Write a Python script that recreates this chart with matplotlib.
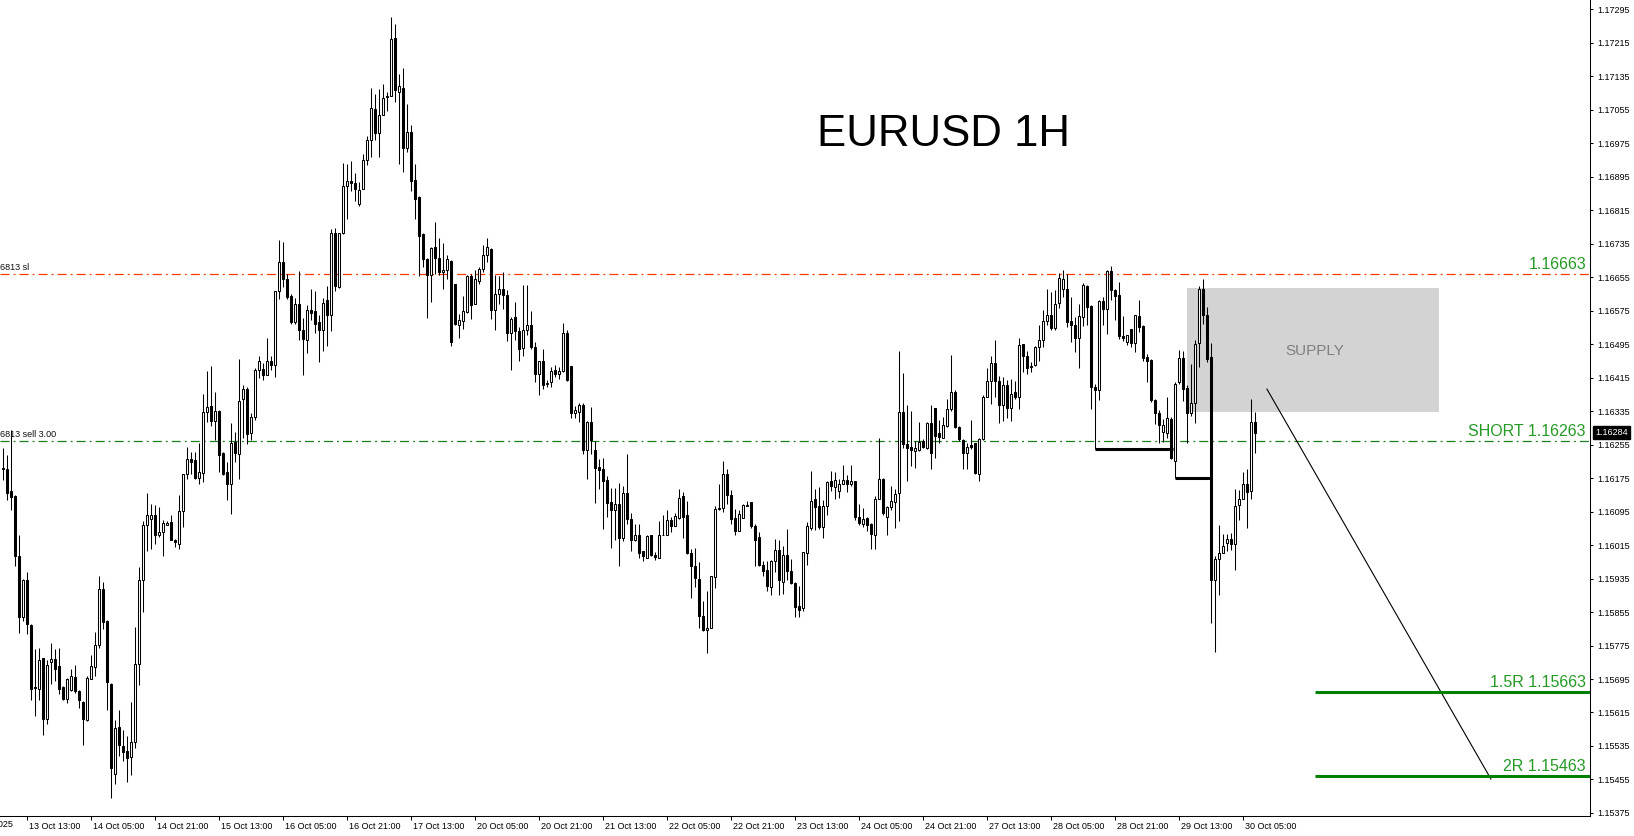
import matplotlib
matplotlib.use('Agg')
import matplotlib.pyplot as plt
import matplotlib.transforms as mtransforms
from matplotlib.patches import Rectangle
import numpy as np

plt.rcParams['font.family'] = ['Liberation Sans', 'DejaVu Sans']
plt.rcParams['lines.scale_dashes'] = False

# EURUSD H1 candles, 13 Oct 07:00 .. 30 Oct
opens = [
    1.16200, 1.16196, 1.16144, 1.16132, 1.15990, 1.15842, 1.15932, 1.15824, 1.15676, 1.15672,
    1.15744, 1.15600, 1.15736, 1.15742, 1.15726, 1.15676, 1.15648, 1.15668, 1.15700, 1.15666,
    1.15640, 1.15598, 1.15696, 1.15724, 1.15776, 1.15910, 1.15834, 1.15684, 1.15468, 1.15580,
    1.15536, 1.15522, 1.15508, 1.15544, 1.15730, 1.15932, 1.16064, 1.16078, 1.16086, 1.16040,
    1.16046, 1.16064, 1.16070, 1.16028, 1.16018, 1.16096, 1.16184, 1.16220, 1.16218, 1.16176,
    1.16188, 1.16332, 1.16348, 1.16312, 1.16336, 1.16234, 1.16190, 1.16162, 1.16262, 1.16232,
    1.16364, 1.16388, 1.16282, 1.16320, 1.16434, 1.16436, 1.16422, 1.16456, 1.16446, 1.16622,
    1.16691, 1.16650, 1.16610, 1.16548, 1.16590, 1.16530, 1.16506, 1.16578, 1.16574, 1.16548,
    1.16528, 1.16600, 1.16564, 1.16760, 1.16632, 1.16762, 1.16874, 1.16886, 1.16880, 1.16830,
    1.16866, 1.16936, 1.16984, 1.17058, 1.17000, 1.17044, 1.17086, 1.17089, 1.17226, 1.17098,
    1.17108, 1.16964, 1.17002, 1.16888, 1.16846, 1.16758, 1.16698, 1.16660, 1.16728, 1.16700,
    1.16668, 1.16672, 1.16694, 1.16638, 1.16542, 1.16550, 1.16572, 1.16658, 1.16592, 1.16646,
    1.16674, 1.16708, 1.16722, 1.16576, 1.16616, 1.16628, 1.16612, 1.16522, 1.16560, 1.16526,
    1.16486, 1.16528, 1.16542, 1.16488, 1.16424, 1.16456, 1.16400, 1.16404, 1.16434, 1.16424,
    1.16430, 1.16522, 1.16442, 1.16330, 1.16334, 1.16350, 1.16242, 1.16310, 1.16242, 1.16202,
    1.16196, 1.16170, 1.16118, 1.16100, 1.16114, 1.16032, 1.16140, 1.16078, 1.16028, 1.16040,
    1.16000, 1.15984, 1.16038, 1.15992, 1.15984, 1.16038, 1.16040, 1.16076, 1.16060, 1.16080,
    1.16132, 1.16088, 1.15996, 1.15966, 1.15934, 1.15846, 1.15812, 1.15818, 1.15938, 1.16102,
    1.16104, 1.16186, 1.16134, 1.16080, 1.16048, 1.16080, 1.16108, 1.16118, 1.16060, 1.16034,
    1.15968, 1.15956, 1.15916, 1.15978, 1.16004, 1.15928, 1.15992, 1.15954, 1.15924, 1.15870,
    1.15864, 1.15996, 1.16056, 1.16124, 1.16108, 1.16058, 1.16108, 1.16168, 1.16154, 1.16144,
    1.16162, 1.16170, 1.16160, 1.16168, 1.16082, 1.16066, 1.16080, 1.16066, 1.16040, 1.16126,
    1.16172, 1.16082, 1.16106, 1.16118, 1.16140, 1.16332, 1.16256, 1.16250, 1.16240, 1.16242,
    1.16264, 1.16248, 1.16306, 1.16342, 1.16282, 1.16270, 1.16300, 1.16340, 1.16380, 1.16298,
    1.16266, 1.16234, 1.16254, 1.16258, 1.16186, 1.16268, 1.16370, 1.16406, 1.16450, 1.16406,
    1.16350, 1.16398, 1.16342, 1.16380, 1.16368, 1.16496, 1.16466, 1.16440, 1.16446, 1.16488,
    1.16504, 1.16550, 1.16566, 1.16534, 1.16594, 1.16628, 1.16628, 1.16550, 1.16542, 1.16510,
    1.16560, 1.16634, 1.16586, 1.16394, 1.16386, 1.16598, 1.16580, 1.16670, 1.16624, 1.16612,
    1.16514, 1.16500, 1.16532, 1.16498, 1.16562, 1.16538, 1.16464, 1.16458, 1.16362, 1.16330,
    1.16286, 1.16284, 1.16316, 1.16216, 1.16404, 1.16462, 1.16390, 1.16330, 1.16354, 1.16498,
    1.16628, 1.16564, 1.16464, 1.15932, 1.15982, 1.15996, 1.16020, 1.16030, 1.16018, 1.16110,
    1.16126, 1.16162, 1.16144, 1.16310,
]
highs = [
    1.16246, 1.16230, 1.16290, 1.16134, 1.16040, 1.15934, 1.15950, 1.15826, 1.15766, 1.15770,
    1.15746, 1.15740, 1.15780, 1.15766, 1.15768, 1.15678, 1.15698, 1.15720, 1.15728, 1.15668,
    1.15642, 1.15702, 1.15752, 1.15808, 1.15940, 1.15926, 1.15836, 1.15686, 1.15596, 1.15620,
    1.15572, 1.15558, 1.15640, 1.15820, 1.15962, 1.16072, 1.16140, 1.16114, 1.16110, 1.16106,
    1.16074, 1.16072, 1.16086, 1.16030, 1.16134, 1.16186, 1.16250, 1.16238, 1.16238, 1.16258,
    1.16376, 1.16432, 1.16444, 1.16382, 1.16338, 1.16238, 1.16214, 1.16306, 1.16286, 1.16460,
    1.16398, 1.16394, 1.16330, 1.16438, 1.16466, 1.16450, 1.16510, 1.16466, 1.16622, 1.16744,
    1.16740, 1.16662, 1.16614, 1.16606, 1.16670, 1.16558, 1.16588, 1.16626, 1.16622, 1.16566,
    1.16606, 1.16634, 1.16770, 1.16774, 1.16760, 1.16928, 1.16926, 1.16934, 1.16904, 1.16882,
    1.16950, 1.16992, 1.17108, 1.17092, 1.17106, 1.17116, 1.17098, 1.17278, 1.17260, 1.17142,
    1.17154, 1.17068, 1.17018, 1.16926, 1.16850, 1.16760, 1.16700, 1.16728, 1.16788, 1.16750,
    1.16736, 1.16708, 1.16696, 1.16640, 1.16568, 1.16610, 1.16660, 1.16664, 1.16672, 1.16680,
    1.16732, 1.16748, 1.16724, 1.16660, 1.16658, 1.16668, 1.16624, 1.16560, 1.16596, 1.16536,
    1.16636, 1.16636, 1.16574, 1.16500, 1.16456, 1.16484, 1.16410, 1.16440, 1.16446, 1.16440,
    1.16546, 1.16528, 1.16444, 1.16348, 1.16354, 1.16354, 1.16312, 1.16344, 1.16264, 1.16220,
    1.16222, 1.16180, 1.16152, 1.16152, 1.16164, 1.16156, 1.16232, 1.16092, 1.16066, 1.16066,
    1.16002, 1.16038, 1.16038, 1.15998, 1.16072, 1.16086, 1.16100, 1.16082, 1.16092, 1.16150,
    1.16142, 1.16120, 1.16006, 1.16008, 1.15974, 1.15882, 1.15906, 1.15942, 1.16108, 1.16160,
    1.16216, 1.16198, 1.16146, 1.16102, 1.16098, 1.16114, 1.16120, 1.16118, 1.16066, 1.16046,
    1.15976, 1.15978, 1.15980, 1.16030, 1.16028, 1.16014, 1.16054, 1.15982, 1.15926, 1.15918,
    1.15998, 1.16070, 1.16192, 1.16150, 1.16154, 1.16122, 1.16168, 1.16192, 1.16190, 1.16172,
    1.16206, 1.16182, 1.16206, 1.16168, 1.16114, 1.16104, 1.16082, 1.16068, 1.16132, 1.16270,
    1.16176, 1.16108, 1.16156, 1.16150, 1.16480, 1.16426, 1.16350, 1.16336, 1.16264, 1.16310,
    1.16268, 1.16308, 1.16350, 1.16342, 1.16314, 1.16322, 1.16364, 1.16470, 1.16386, 1.16300,
    1.16268, 1.16260, 1.16314, 1.16260, 1.16272, 1.16374, 1.16438, 1.16466, 1.16506, 1.16420,
    1.16416, 1.16410, 1.16412, 1.16408, 1.16510, 1.16496, 1.16480, 1.16452, 1.16490, 1.16540,
    1.16576, 1.16628, 1.16620, 1.16624, 1.16666, 1.16672, 1.16662, 1.16608, 1.16560, 1.16592,
    1.16642, 1.16636, 1.16588, 1.16400, 1.16600, 1.16608, 1.16672, 1.16682, 1.16628, 1.16644,
    1.16562, 1.16518, 1.16532, 1.16566, 1.16600, 1.16540, 1.16472, 1.16460, 1.16364, 1.16338,
    1.16316, 1.16370, 1.16320, 1.16404, 1.16482, 1.16480, 1.16398, 1.16448, 1.16506, 1.16634,
    1.16650, 1.16584, 1.16498, 1.15990, 1.16062, 1.16042, 1.16042, 1.16044, 1.16148, 1.16146,
    1.16190, 1.16196, 1.16364, 1.16332,
]
lows = [
    1.16170, 1.16122, 1.16098, 1.15966, 1.15804, 1.15834, 1.15802, 1.15644, 1.15606, 1.15646,
    1.15562, 1.15588, 1.15684, 1.15690, 1.15658, 1.15646, 1.15638, 1.15666, 1.15662, 1.15626,
    1.15538, 1.15594, 1.15694, 1.15702, 1.15770, 1.15814, 1.15620, 1.15410, 1.15444, 1.15510,
    1.15498, 1.15450, 1.15466, 1.15530, 1.15680, 1.15854, 1.16000, 1.16006, 1.16018, 1.16034,
    1.15988, 1.16062, 1.16026, 1.16010, 1.16006, 1.16058, 1.16172, 1.16186, 1.16172, 1.16162,
    1.16166, 1.16308, 1.16300, 1.16266, 1.16190, 1.16182, 1.16122, 1.16090, 1.16214, 1.16172,
    1.16272, 1.16256, 1.16266, 1.16314, 1.16414, 1.16410, 1.16422, 1.16434, 1.16416, 1.16602,
    1.16632, 1.16602, 1.16544, 1.16544, 1.16506, 1.16422, 1.16474, 1.16554, 1.16522, 1.16452,
    1.16480, 1.16490, 1.16526, 1.16622, 1.16630, 1.16758, 1.16794, 1.16862, 1.16838, 1.16826,
    1.16866, 1.16924, 1.16942, 1.16982, 1.16942, 1.17042, 1.17052, 1.17088, 1.17074, 1.16926,
    1.16906, 1.16954, 1.16862, 1.16794, 1.16658, 1.16680, 1.16558, 1.16596, 1.16662, 1.16660,
    1.16628, 1.16652, 1.16490, 1.16542, 1.16510, 1.16532, 1.16570, 1.16556, 1.16590, 1.16640,
    1.16668, 1.16692, 1.16556, 1.16528, 1.16592, 1.16580, 1.16502, 1.16434, 1.16504, 1.16456,
    1.16468, 1.16516, 1.16484, 1.16404, 1.16374, 1.16388, 1.16392, 1.16394, 1.16416, 1.16412,
    1.16428, 1.16408, 1.16318, 1.16318, 1.16308, 1.16232, 1.16174, 1.16232, 1.16116, 1.16148,
    1.16054, 1.16082, 1.16008, 1.16028, 1.15964, 1.16024, 1.16066, 1.16002, 1.16024, 1.15984,
    1.15978, 1.15984, 1.15990, 1.15980, 1.15984, 1.16038, 1.16038, 1.16046, 1.16060, 1.16078,
    1.16032, 1.15994, 1.15888, 1.15914, 1.15818, 1.15810, 1.15758, 1.15816, 1.15912, 1.16100,
    1.16094, 1.16114, 1.16066, 1.16038, 1.16048, 1.16080, 1.16108, 1.16056, 1.15964, 1.15964,
    1.15940, 1.15906, 1.15896, 1.15950, 1.15896, 1.15898, 1.15932, 1.15922, 1.15842, 1.15842,
    1.15858, 1.15968, 1.16050, 1.16052, 1.16054, 1.16032, 1.16086, 1.16144, 1.16126, 1.16128,
    1.16160, 1.16142, 1.16156, 1.16076, 1.16064, 1.16058, 1.16048, 1.16006, 1.16006, 1.16124,
    1.16088, 1.16040, 1.16100, 1.16056, 1.16072, 1.16248, 1.16168, 1.16204, 1.16200, 1.16240,
    1.16248, 1.16244, 1.16196, 1.16224, 1.16260, 1.16270, 1.16298, 1.16336, 1.16294, 1.16264,
    1.16198, 1.16198, 1.16244, 1.16186, 1.16168, 1.16266, 1.16368, 1.16352, 1.16370, 1.16306,
    1.16312, 1.16318, 1.16312, 1.16364, 1.16340, 1.16428, 1.16424, 1.16428, 1.16444, 1.16454,
    1.16488, 1.16540, 1.16530, 1.16528, 1.16582, 1.16608, 1.16536, 1.16500, 1.16476, 1.16438,
    1.16538, 1.16540, 1.16340, 1.16244, 1.16362, 1.16542, 1.16520, 1.16600, 1.16552, 1.16508,
    1.16502, 1.16494, 1.16488, 1.16476, 1.16524, 1.16456, 1.16404, 1.16356, 1.16304, 1.16260,
    1.16262, 1.16272, 1.16220, 1.16176, 1.16400, 1.16360, 1.16260, 1.16324, 1.16306, 1.16440,
    1.16544, 1.16452, 1.15828, 1.15760, 1.15896, 1.15996, 1.16002, 1.16004, 1.15956, 1.16074,
    1.16124, 1.16056, 1.16124, 1.16236,
]
closes = [
    1.16196, 1.16140, 1.16130, 1.15988, 1.15844, 1.15932, 1.15826, 1.15672, 1.15674, 1.15740,
    1.15600, 1.15728, 1.15742, 1.15720, 1.15672, 1.15648, 1.15694, 1.15701, 1.15666, 1.15644,
    1.15600, 1.15698, 1.15726, 1.15776, 1.15910, 1.15832, 1.15688, 1.15482, 1.15578, 1.15538,
    1.15520, 1.15506, 1.15544, 1.15730, 1.15932, 1.16064, 1.16086, 1.16086, 1.16040, 1.16046,
    1.16068, 1.16068, 1.16028, 1.16022, 1.16096, 1.16184, 1.16220, 1.16214, 1.16176, 1.16189,
    1.16332, 1.16346, 1.16312, 1.16336, 1.16230, 1.16184, 1.16162, 1.16260, 1.16234, 1.16360,
    1.16388, 1.16280, 1.16322, 1.16434, 1.16454, 1.16422, 1.16456, 1.16446, 1.16622, 1.16691,
    1.16650, 1.16608, 1.16548, 1.16590, 1.16528, 1.16508, 1.16578, 1.16570, 1.16544, 1.16530,
    1.16594, 1.16564, 1.16760, 1.16634, 1.16760, 1.16874, 1.16886, 1.16880, 1.16866, 1.16864,
    1.16936, 1.16982, 1.17060, 1.17000, 1.17044, 1.17084, 1.17089, 1.17224, 1.17102, 1.17112,
    1.16964, 1.17002, 1.16886, 1.16842, 1.16754, 1.16698, 1.16660, 1.16724, 1.16700, 1.16668,
    1.16672, 1.16698, 1.16500, 1.16544, 1.16552, 1.16574, 1.16658, 1.16588, 1.16650, 1.16674,
    1.16708, 1.16728, 1.16576, 1.16616, 1.16626, 1.16612, 1.16522, 1.16556, 1.16526, 1.16484,
    1.16530, 1.16542, 1.16488, 1.16424, 1.16456, 1.16398, 1.16402, 1.16430, 1.16424, 1.16430,
    1.16522, 1.16410, 1.16330, 1.16338, 1.16350, 1.16242, 1.16310, 1.16266, 1.16200, 1.16194,
    1.16168, 1.16116, 1.16100, 1.16114, 1.16032, 1.16140, 1.16078, 1.16028, 1.16040, 1.15996,
    1.15988, 1.16036, 1.15992, 1.15986, 1.16038, 1.16040, 1.16076, 1.16060, 1.16084, 1.16128,
    1.16082, 1.15996, 1.15964, 1.15936, 1.15846, 1.15812, 1.15818, 1.15940, 1.16102, 1.16104,
    1.16186, 1.16134, 1.16078, 1.16048, 1.16090, 1.16110, 1.16112, 1.16060, 1.16028, 1.15968,
    1.15954, 1.15918, 1.15978, 1.16004, 1.15932, 1.15992, 1.15952, 1.15924, 1.15868, 1.15860,
    1.15998, 1.16060, 1.16120, 1.16106, 1.16058, 1.16108, 1.16166, 1.16156, 1.16170, 1.16162,
    1.16170, 1.16160, 1.16168, 1.16082, 1.16068, 1.16078, 1.16064, 1.16042, 1.16126, 1.16172,
    1.16092, 1.16106, 1.16120, 1.16138, 1.16332, 1.16256, 1.16248, 1.16242, 1.16246, 1.16262,
    1.16250, 1.16306, 1.16234, 1.16276, 1.16274, 1.16302, 1.16340, 1.16382, 1.16298, 1.16268,
    1.16234, 1.16250, 1.16250, 1.16188, 1.16268, 1.16370, 1.16406, 1.16450, 1.16406, 1.16350,
    1.16398, 1.16342, 1.16376, 1.16368, 1.16494, 1.16466, 1.16438, 1.16444, 1.16488, 1.16504,
    1.16550, 1.16566, 1.16534, 1.16592, 1.16654, 1.16652, 1.16548, 1.16542, 1.16510, 1.16562,
    1.16636, 1.16584, 1.16392, 1.16386, 1.16598, 1.16580, 1.16670, 1.16624, 1.16610, 1.16514,
    1.16510, 1.16516, 1.16498, 1.16564, 1.16536, 1.16462, 1.16454, 1.16362, 1.16330, 1.16302,
    1.16302, 1.16318, 1.16222, 1.16400, 1.16462, 1.16388, 1.16330, 1.16354, 1.16496, 1.16628,
    1.16564, 1.16460, 1.15932, 1.15982, 1.15996, 1.16014, 1.16030, 1.16018, 1.16108, 1.16126,
    1.16162, 1.16142, 1.16310, 1.16284,
]

time_labels = ['13 Oct 13:00', '14 Oct 05:00', '14 Oct 21:00', '15 Oct 13:00', '16 Oct 05:00',
               '16 Oct 21:00', '17 Oct 13:00', '20 Oct 05:00', '20 Oct 21:00', '21 Oct 13:00',
               '22 Oct 05:00', '22 Oct 21:00', '23 Oct 13:00', '24 Oct 05:00', '24 Oct 21:00',
               '27 Oct 13:00', '28 Oct 05:00', '28 Oct 21:00', '29 Oct 13:00', '30 Oct 05:00']
price_ticks = [1.17295 - 0.0008 * k for k in range(25)]

# trade levels
sl_price = 1.16663
entry_price = 1.16263
tp1_price = 1.15663
tp2_price = 1.15463
last_price = 1.16284
supply_low, supply_high = 1.16334, 1.16630
bos1_price = 1.16244
bos2_price = 1.16176

o = np.array(opens); h = np.array(highs); l = np.array(lows); c = np.array(closes)
n = len(c)
idx = np.arange(n)

fig = plt.figure(figsize=(16.34, 8.36), dpi=100)
ax = fig.add_axes([0, 20 / 836, 1590 / 1634, 816 / 836])
ax.set_xlim(-0.825, 396.675)
ax.set_ylim(1.153676, 1.173177)

# supply zone
ax.add_patch(Rectangle((296, supply_low), 359 - 296, supply_high - supply_low,
                       facecolor='#d3d3d3', edgecolor='none', zorder=0))
ax.text(327.9, 1.16480, 'SUPPLY', color='#7f7f7f', fontsize=11, ha='center', va='center', zorder=1)

# order lines
ax.axhline(sl_price, color='#ff3c00', lw=0.9, dashes=(6.5, 2.9, 1.4, 2.9), zorder=1)
ax.axhline(entry_price, color='#1b801b', lw=0.9, dashes=(6.5, 2.9, 1.4, 2.9), zorder=1)

# candles
ax.vlines(idx, l, h, color='black', lw=0.75, zorder=3)
body_lo = np.minimum(o, c)
body_h = np.abs(c - o)
face = ['black' if cc < oo else 'white' for oo, cc in zip(o, c)]
ax.bar(idx, body_h, width=0.5, bottom=body_lo, color=face, edgecolor='black',
       linewidth=0.75, zorder=4)

# structure breaks
ax.hlines(bos1_price, 273, 292.5, color='black', lw=2.2, zorder=5)
ax.hlines(bos2_price, 293, 302, color='black', lw=2.2, zorder=5)

# projected move
ax.plot([315.9, 371.9], [1.16388, 1.15456], color='black', lw=0.8, zorder=5)

# targets
ax.hlines([tp1_price, tp2_price], 327.9, 396.7, color='#008000', lw=2.2, zorder=5)

lbl_tr = mtransforms.blended_transform_factory(ax.transAxes, ax.transData)
up = mtransforms.ScaledTranslation(0, 2 / 100, fig.dpi_scale_trans)
green = '#259925'
for txt, p in [('1.16663', sl_price), ('SHORT 1.16263', entry_price),
               ('1.5R 1.15663', tp1_price), ('2R 1.15463', tp2_price)]:
    ax.text(1586 / 1590, p, txt, transform=lbl_tr + up, ha='right', va='bottom',
            color=green, fontsize=11.5, zorder=6)

# left order labels (cut by the window edge)
left_tr = mtransforms.blended_transform_factory(ax.transAxes, ax.transData)
ax.text(-5 / 1590, sl_price, '16813 sl', transform=left_tr + up, ha='left', va='bottom',
        fontsize=6.5, color='#111111', clip_on=False)
ax.text(-5 / 1590, entry_price, '16813 sell 3.00', transform=left_tr + up, ha='left',
        va='bottom', fontsize=6.5, color='#111111', clip_on=False)

# title
fig.text(943 / 1634, 1 - 135 / 836, 'EURUSD 1H', fontsize=31.5, ha='center', va='center')

# axes styling
for s in ['top', 'left']:
    ax.spines[s].set_visible(False)
for s in ['right', 'bottom']:
    ax.spines[s].set_linewidth(0.75)
    ax.spines[s].set_color('black')

ax.yaxis.tick_right()
ax.set_yticks(price_ticks)
ax.set_yticklabels(['%.5f' % p for p in price_ticks])
ax.tick_params(axis='y', direction='out', length=2.5, width=0.75, pad=3, labelsize=6.5)

ax.set_xticks([6 + 16 * k for k in range(len(time_labels))])
ax.set_xticklabels(time_labels)
ax.tick_params(axis='x', direction='out', length=3, width=0.75, pad=1.5, labelsize=6.5)
shift = mtransforms.ScaledTranslation(2 / 100, 0, fig.dpi_scale_trans)
for t in ax.get_xticklabels():
    t.set_ha('left')
    t.set_transform(t.get_transform() + shift)

bot_tr = mtransforms.blended_transform_factory(ax.transData, ax.transAxes)
ax.text(2.43, -8.5 / 816, '13 Oct 2025', transform=bot_tr, ha='right', va='center',
        fontsize=6.5, clip_on=False)

# current price tag
ax.text(1.0 + 5 / 1590, last_price, '1.16284', transform=lbl_tr, ha='left', va='center',
        color='white', fontsize=6.5, clip_on=False,
        bbox=dict(boxstyle='square,pad=0.25', fc='black', ec='black'))

fig.savefig('out.png', dpi=100)
